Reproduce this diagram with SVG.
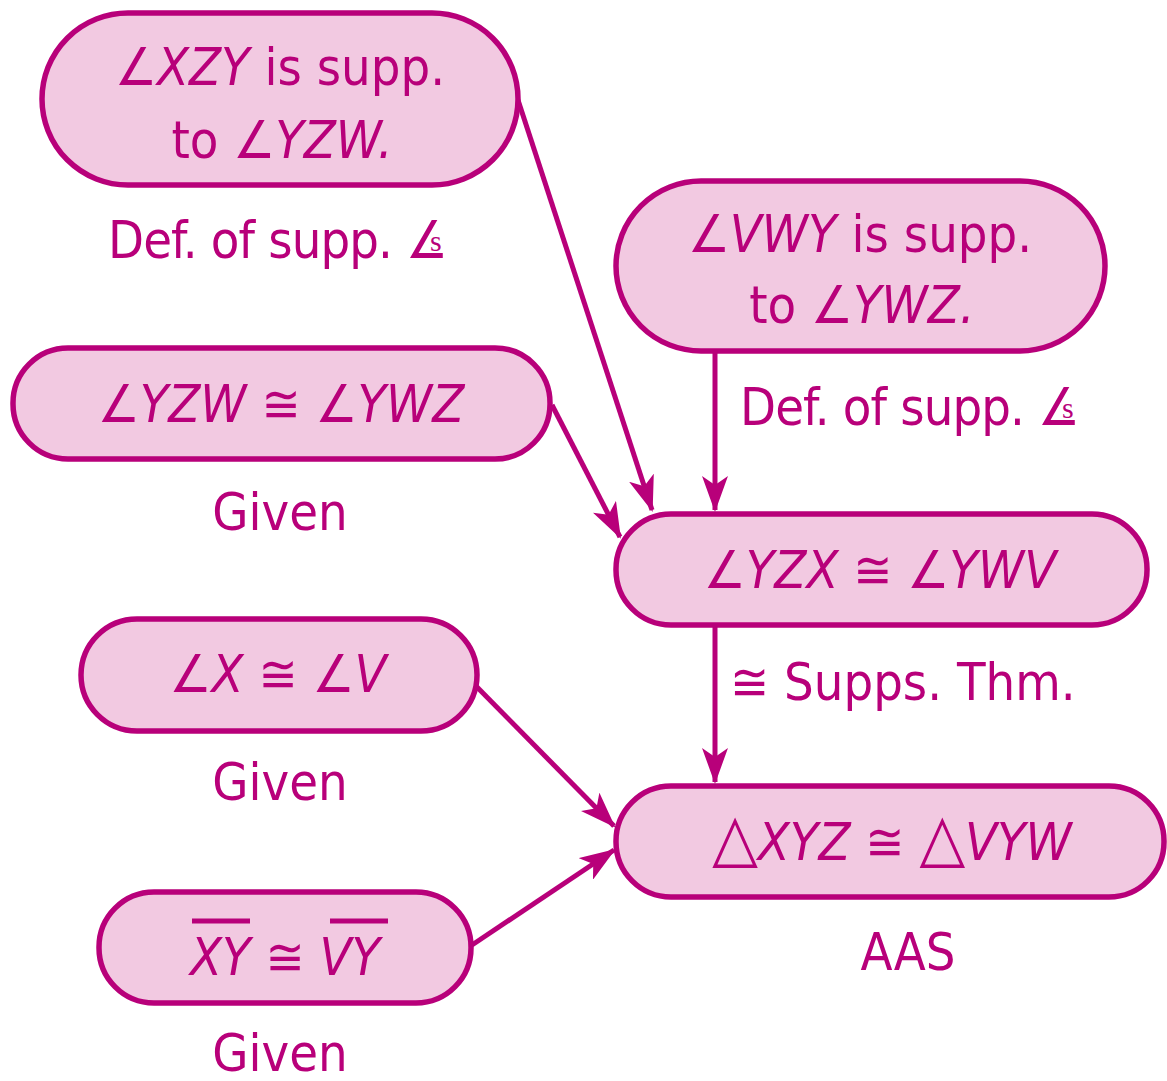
<svg xmlns="http://www.w3.org/2000/svg" width="1167" height="1081" viewBox="0 0 1167 1081">
<defs>
<style>
.n{fill:#F2C9E1;stroke:#B8007A;stroke-width:5.5}
text{font-family:"Liberation Sans Narrow","DejaVu Sans Condensed","Open Sans",sans-serif;fill:#B8007A;font-size:52px}
.c{text-anchor:middle}
.i{font-style:italic}
.t{font-size:66px;font-style:normal}
text.s{font-family:"Liberation Serif",serif;font-size:30px}
.e{stroke:#B8007A;stroke-width:5;fill:none}
</style>
<marker id="a" viewBox="0 0 36 26" refX="34" refY="13" markerWidth="36" markerHeight="26" markerUnits="userSpaceOnUse" orient="auto"><path d="M0,0 L36,13 L0,26 L9,13 Z" fill="#B8007A"/></marker>
</defs>
<g id="connectors">
<path class="e" d="M518,100 L652,510" marker-end="url(#a)"/>
<path class="e" d="M552,405 L620,537" marker-end="url(#a)"/>
<path class="e" d="M715,352 L715,510" marker-end="url(#a)"/>
<path class="e" d="M715,625 L715,782" marker-end="url(#a)"/>
<path class="e" d="M475,685 L614,826" marker-end="url(#a)"/>
<path class="e" d="M472,945 L614,850" marker-end="url(#a)"/>
</g>
<g id="nodeA">
<rect class="n" x="42" y="13" width="476" height="172" rx="86"/>
<text class="c" x="280" y="85">∠<tspan class="i">XZY</tspan> is supp.</text>
<text class="c" x="282" y="158">to ∠<tspan class="i">YZW.</tspan></text>
</g>
<g id="labelA">
<text x="108" y="258" textLength="340" lengthAdjust="spacing">Def. of supp. ∠</text>
<text class="s" x="430" y="251">s</text>
</g>
<g id="nodeB">
<rect class="n" x="616" y="181" width="489" height="170" rx="85"/>
<text class="c" x="860" y="252">∠<tspan class="i">VWY</tspan> is supp.</text>
<text class="c" x="862" y="323">to ∠<tspan class="i">YWZ.</tspan></text>
</g>
<g id="labelB">
<text x="740" y="425" textLength="340" lengthAdjust="spacing">Def. of supp. ∠</text>
<text class="s" x="1062" y="418">s</text>
</g>
<g id="nodeC">
<rect class="n" x="13" y="348" width="537" height="111" rx="55"/>
<text class="c" x="281" y="422">∠<tspan class="i">YZW</tspan> ≅ ∠<tspan class="i">YWZ</tspan></text>
</g>
<text class="c" x="280" y="530">Given</text>
<g id="nodeD">
<rect class="n" x="616" y="514" width="531" height="111" rx="55"/>
<text class="c" x="880" y="588">∠<tspan class="i">YZX</tspan> ≅ ∠<tspan class="i">YWV</tspan></text>
</g>
<text x="730" y="700">≅ Supps. Thm.</text>
<g id="nodeE">
<rect class="n" x="81" y="619" width="396" height="112" rx="56"/>
<text class="c" x="278" y="692">∠<tspan class="i">X</tspan> ≅ ∠<tspan class="i">V</tspan></text>
</g>
<text class="c" x="280" y="800">Given</text>
<g id="nodeF">
<rect class="n" x="616" y="786" width="548" height="111" rx="55"/>
<text class="c" x="892" y="860"><tspan class="t">△</tspan><tspan class="i">XYZ</tspan> ≅ <tspan class="t">△</tspan><tspan class="i">VYW</tspan></text>
</g>
<text class="c" x="908" y="970">AAS</text>
<g id="nodeG">
<rect class="n" x="99" y="892" width="372" height="111" rx="55"/>
<text class="c" x="285" y="975"><tspan class="i">XY</tspan> ≅ <tspan class="i">VY</tspan></text>
<line x1="192" y1="921" x2="250" y2="921" stroke="#B8007A" stroke-width="5"/>
<line x1="330" y1="921" x2="388" y2="921" stroke="#B8007A" stroke-width="5"/>
</g>
<text class="c" x="280" y="1071">Given</text>
</svg>
